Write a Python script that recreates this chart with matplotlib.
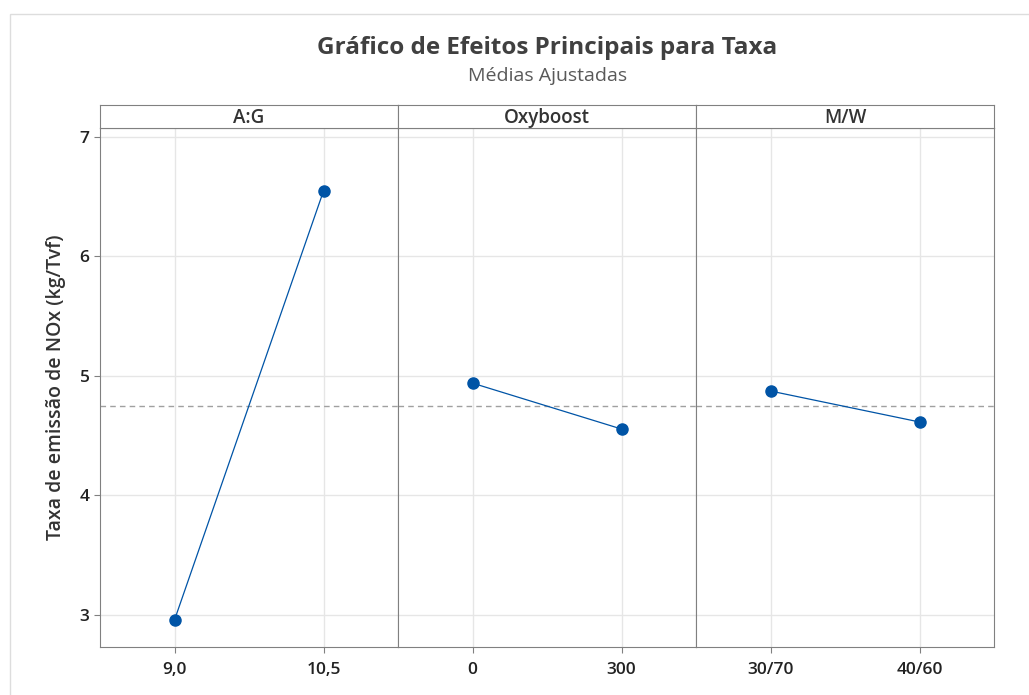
import matplotlib.pyplot as plt
from matplotlib.patches import Rectangle

plt.rcParams['font.family'] = ['Open Sans', 'DejaVu Sans']

# dados (médias ajustadas)
fatores = ['A:G', 'Oxyboost', 'M/W']
niveis = [['9,0', '10,5'], ['0', '300'], ['30/70', '40/60']]
medias = [[2.958, 6.548], [4.94, 4.556], [4.874, 4.615]]
media_geral = 4.749
yticks = [3, 4, 5, 6, 7]

azul = '#0054a6'
borda = '#808080'

fig = plt.figure(figsize=(10.29, 6.95), dpi=100)

# moldura clara em volta (só topo e esquerda visíveis)
fig.patches.append(Rectangle((10 / 1029, -0.1), 1, 1.1 - 14 / 695, transform=fig.transFigure,
                             fill=False, edgecolor='#dddddd', linewidth=1))

fig.text(0.532, 0.931, 'Gráfico de Efeitos Principais para Taxa', ha='center', va='center',
         fontsize=17.5, fontweight='bold', color='#404040')
fig.text(0.532, 0.891, 'Médias Ajustadas', ha='center', va='center', fontsize=14, color='#595959')

left = 100 / 1029
w = 298 / 1029
bottom = 1 - 647 / 695
h = (647 - 128) / 695
sh = 23 / 695

axes = []
for i, fator in enumerate(fatores):
    ax = fig.add_axes([left + i * w, bottom, w, h], sharey=axes[0] if axes else None)
    x = range(len(niveis[i]))
    ax.plot(x, medias[i], color=azul, linewidth=0.9, marker='o', markersize=8, zorder=3)
    ax.axhline(media_geral, color='#a0a0a0', linestyle='--', linewidth=1, dashes=(4, 3), zorder=2)
    ax.set_xlim(-0.5, 1.5)
    ax.set_ylim(2.732, 7.075)
    ax.set_xticks(list(x))
    ax.set_xticklabels(niveis[i], fontsize=12.5, fontweight='semibold', color='#222222')
    ax.set_yticks(yticks)
    ax.grid(True, color='#e6e6e6', linewidth=1, zorder=0)
    ax.set_axisbelow(True)
    for s in ax.spines.values():
        s.set_color(borda)
    ax.tick_params(axis='x', length=4, color=borda, pad=7)
    if i == 0:
        ax.tick_params(axis='y', length=4, color=borda, labelsize=12.5, labelcolor='#222222')
        for lb in ax.get_yticklabels():
            lb.set_fontweight('semibold')
        ax.set_ylabel('Taxa de emissão de NOx (kg/Tvf)', fontsize=14, fontweight='semibold',
                      color='#333333', labelpad=10)
    else:
        ax.tick_params(axis='y', length=0, labelleft=False)
    axes.append(ax)

    # faixa do título do painel
    sx = fig.add_axes([left + i * w, bottom + h, w, sh])
    sx.set_xticks([])
    sx.set_yticks([])
    for s in sx.spines.values():
        s.set_color(borda)
    sx.text(0.5, 0.45, fator, ha='center', va='center', fontsize=13.5, color='#333333',
            fontweight='semibold', transform=sx.transAxes)

fig.savefig('out.png', dpi=100)
